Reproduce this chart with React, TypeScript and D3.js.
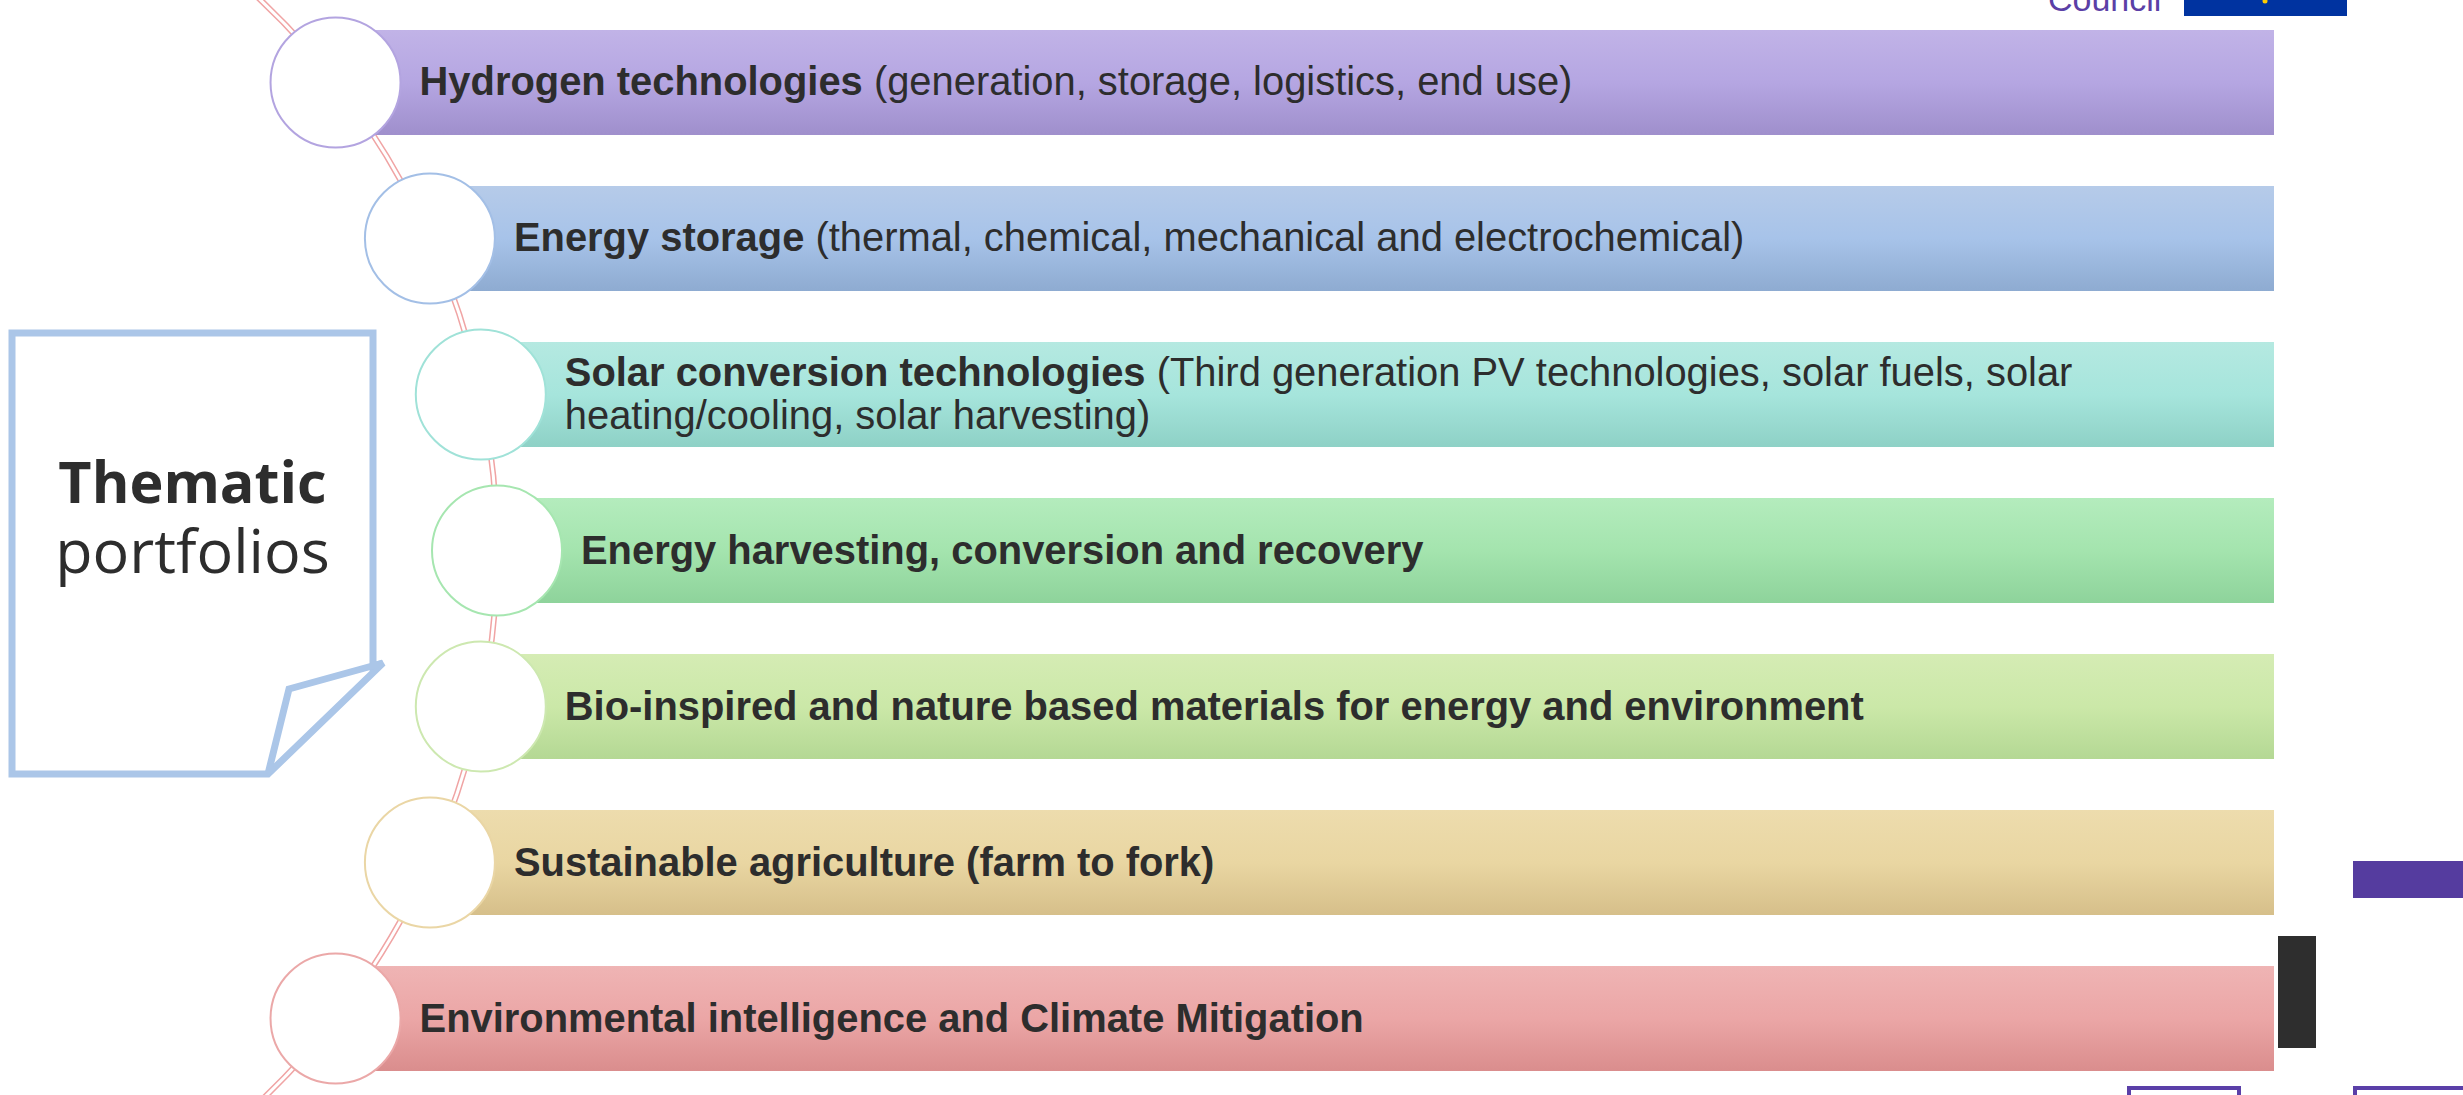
import * as d3 from 'd3';

// portfolio items, top to bottom
const titles = [
  'Hydrogen technologies',
  'Energy storage',
  'Solar conversion technologies',
  'Energy harvesting, conversion and recovery',
  'Bio-inspired and nature based materials for energy and environment',
  'Sustainable agriculture (farm to fork)',
  'Environmental intelligence and Climate Mitigation',
];

const details = [
  [' (generation, storage, logistics, end use)'],
  [' (thermal, chemical, mechanical and electrochemical)'],
  [' (Third generation PV technologies, solar fuels, solar', 'heating/cooling, solar harvesting)'],
  [],
  [],
  [],
  [],
];

// gradient stops: top, middle, bottom
const barColors = [
  ['#c1b3e7', '#b5a6e2', '#9f8fcc'],
  ['#b6cbe9', '#a7c3e9', '#8eabd1'],
  ['#b5e9e1', '#a6e5dc', '#8ed1c6'],
  ['#b4ecbd', '#a4e4ae', '#8ed39b'],
  ['#d5ecb4', '#cbe8a8', '#b4d894'],
  ['#eddcad', '#e9d6a2', '#d6bf8a'],
  ['#efb4b4', '#eba6a6', '#da8d8d'],
];

const ringColors = ['#b3a4e0', '#a3bfe6', '#a0e2d8', '#a6e6b0', '#cde8b0', '#ead6a5', '#eba8a8'];

const sideTitle = ['Thematic', 'portfolios'];

const W = 2463;
const H = 1095;
const barRight = 2274;
const r = 65;
const lineGap = 43;
// the arc the circles sit on
const arcCx = -262;
const arcCy = 550.5;
const arcR = 759;

const App = () => {
  const idx = titles.map((d, i) => i);

  const y = d3.scaleBand<number>().domain(idx).range([30, 1071]).paddingInner(0.327);

  const cxAt = (cy: number) => arcCx + Math.sqrt(arcR * arcR - (cy - arcCy) * (cy - arcCy));

  const p = d3.path();
  p.arc(arcCx, arcCy, arcR, -0.87, 0.87);
  const arcD = p.toString();

  const framePath = 'M12,333 L373,333 L373,666 L383,663 L268,774 L12,774 Z';
  const flapPath = 'M383,663 L289,689 L268,774';

  return (
    <svg
      width={W}
      height={H}
      style={{ position: 'absolute', left: 0, top: 0, background: '#fff' }}
    >
      <defs>
        {barColors.map((c, i) => (
          <linearGradient key={i} id={'bar' + i} x1="0" y1="0" x2="0" y2="1">
            <stop offset="0%" stopColor={c[0]} />
            <stop offset="50%" stopColor={c[1]} />
            <stop offset="100%" stopColor={c[2]} />
          </linearGradient>
        ))}
      </defs>

      {/* header remnants */}
      <text x={2048} y={11} fontFamily="Liberation Sans, Arial" fontSize={34} fill="#5b3fa6">
        Council
      </text>
      <rect x={2184} y={-4} width={163} height={20} fill="#0033a0" />
      <circle cx={2265} cy={1} r={2.5} fill="#ffcc00" />

      {/* double line */}
      <path d={arcD} fill="none" stroke="#f0a4a4" strokeWidth={6} />
      <path d={arcD} fill="none" stroke="#fff" strokeWidth={3} />

      {idx.map((i) => {
        const top = y(i)!;
        const bh = y.bandwidth();
        const cy = top + bh / 2;
        const cx = cxAt(cy);
        return (
          <g key={i}>
            <rect x={cx} y={top} width={barRight - cx} height={bh} fill={`url(#bar${i})`} />
            <circle cx={cx} cy={cy} r={r} fill="#fff" stroke={ringColors[i]} strokeWidth={2} />
          </g>
        );
      })}

      {idx.map((i) => {
        const top = y(i)!;
        const cy = top + y.bandwidth() / 2;
        const tx = cxAt(cy) + r + 19;
        const lines = Math.max(1, details[i].length);
        const base = cy + 13 - ((lines - 1) * lineGap) / 2;
        return (
          <text
            key={i}
            x={tx}
            y={base}
            fontFamily="Liberation Sans, Arial, sans-serif"
            fontSize={39.9}
            fill="#2d2d2d"
          >
            <tspan fontWeight="bold">{titles[i]}</tspan>
            {details[i].length > 0 && <tspan>{details[i][0]}</tspan>}
            {details[i].slice(1).map((t, k) => (
              <tspan key={k} x={tx} dy={lineGap}>
                {t}
              </tspan>
            ))}
          </text>
        );
      })}

      {/* callout box */}
      <path d={framePath} fill="#fff" stroke="#abc6e8" strokeWidth={7} strokeLinejoin="miter" />
      <path d={flapPath} fill="none" stroke="#abc6e8" strokeWidth={7} />
      <text
        x={192.5}
        y={503}
        textAnchor="middle"
        fontFamily="Open Sans, Noto Sans, sans-serif"
        fontWeight="bold"
        fontSize={57.5}
        fill="#2d2d2d"
      >
        {sideTitle[0]}
      </text>
      <text
        x={192.5}
        y={573}
        textAnchor="middle"
        fontFamily="Open Sans, Noto Sans, sans-serif"
        fontSize={61}
        fill="#2d2d2d"
      >
        {sideTitle[1]}
      </text>

      {/* right side decorations */}
      <rect x={2353} y={861} width={120} height={37} fill="#553c9f" />
      <rect x={2278} y={936} width={38} height={112} fill="#2e2e2e" />
      <rect x={2129} y={1088} width={110} height={30} fill="none" stroke="#5a3fa8" strokeWidth={4} />
      <rect x={2355} y={1088} width={120} height={30} fill="none" stroke="#5a3fa8" strokeWidth={4} />
    </svg>
  );
};

export default App;
